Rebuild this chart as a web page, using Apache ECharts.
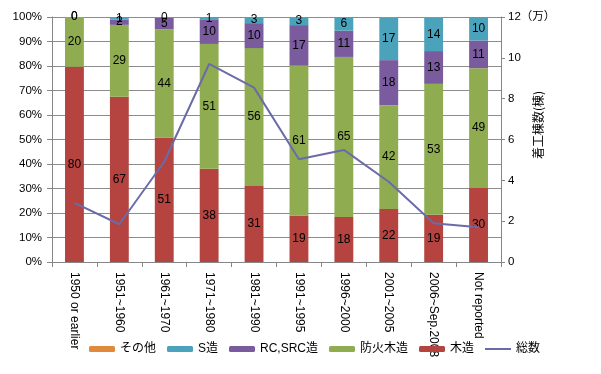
<!DOCTYPE html>
<html>
<head>
<meta charset="utf-8">
<script src="https://cdn.jsdelivr.net/npm/echarts@6/dist/echarts.min.js"></script>
<style>html,body{margin:0;padding:0;background:#fff}#c{width:601px;height:374px}</style>
</head>
<body>
<div id="c"></div>
<script>
const categories = ['1950 or earlier','1951~1960','1961~1970','1971~1980','1981~1990','1991~1995','1996~2000','2001~2005','2006~Sep.2008','Not reported'];
const mokuzou   = [79.7, 67.4, 50.8, 38.1, 31.0, 18.9, 18.4, 21.6, 19.3, 30.2];
const boka      = [20.3, 29.4, 44.2, 50.9, 56.3, 61.2, 65.3, 42.4, 53.4, 48.9];
const rcsrc     = [0, 2.2, 4.6, 9.8, 10.2, 16.6, 10.7, 18.4, 13.4, 11.3];
const szou      = [0, 1.0, 0.4, 1.2, 2.5, 3.3, 5.6, 17.4, 13.7, 9.6];
const sonota    = [0, 0, 0, 0, 0, 0, 0, 0.2, 0.2, 0];
const total     = [2.90, 1.85, 4.91, 9.70, 8.54, 5.03, 5.49, 3.93, 1.90, 1.70];
const leftTicks = ['0%','10%','20%','30%','40%','50%','60%','70%','80%','90%','100%'];

const font = "'Liberation Sans','Noto Sans CJK JP',sans-serif";
const chart = echarts.init(document.getElementById('c'));
const lbl = {show:true, position:'inside', color:'#000', fontSize:12, fontFamily:font,
  formatter: p => String(Math.round(p.value))};
function bar(name, data, color, showLabel){
  return {name, type:'bar', stack:'s', data, barWidth:'42%', yAxisIndex:0,
    itemStyle:{color}, label: showLabel ? lbl : {show:false}};
}
chart.setOption({
  animation:false,
  textStyle:{fontFamily:font},
  grid:{left:52, right:100, top:17, bottom:112},
  xAxis:{type:'category', data:categories,
    axisLine:{lineStyle:{color:'#868686'}},
    axisTick:{show:true, alignWithLabel:false, length:5, lineStyle:{color:'#868686'}},
    axisLabel:{rotate:-90, color:'#000', fontSize:12, margin:10, fontFamily:font, interval:0}},
  yAxis:[
    {type:'value', min:0, max:100, interval:10,
      axisLine:{show:true, lineStyle:{color:'#868686'}},
      axisTick:{show:true, length:5, lineStyle:{color:'#868686'}},
      splitLine:{lineStyle:{color:'#8c8c8c'}},
      axisLabel:{color:'#000', fontSize:11.5, margin:10, formatter:v => leftTicks[Math.round(v/10)]}},
    {type:'value', min:0, max:12, interval:2, position:'right',
      axisLine:{show:true, lineStyle:{color:'#868686'}},
      axisTick:{show:true, length:4, lineStyle:{color:'#868686'}},
      splitLine:{show:false},
      axisLabel:{color:'#000', fontSize:11.5, margin:7, formatter:v => v===12 ? '12（万）' : String(v)}}
  ],
  legend:{left:84, top:338, itemWidth:26, itemHeight:6, itemGap:11,
    textStyle:{color:'#000', fontSize:12, fontFamily:font},
    data:['その他','S造','RC,SRC造','防火木造','木造',{name:'総数', icon:'path://M0,0H26V2H0Z'}]},
  graphic:[{type:'text', x:538, y:125, rotation:Math.PI/2,
    style:{text:'着工棟数(棟)', fill:'#000', font:"12px 'Noto Sans CJK JP',sans-serif", align:'center', verticalAlign:'middle'}}],
  series:[
    bar('木造', mokuzou, '#b5433f', true),
    bar('防火木造', boka, '#8fad50', true),
    bar('RC,SRC造', rcsrc, '#7a5c9e', true),
    bar('S造', szou, '#4aa3ba', true),
    bar('その他', sonota, '#e08a3c', false),
    {name:'総数', type:'line', yAxisIndex:1, data:total, symbol:'none',
      lineStyle:{color:'#6b6ba9', width:2}, itemStyle:{color:'#6b6ba9'}, z:5}
  ]
});
</script>
</body>
</html>
